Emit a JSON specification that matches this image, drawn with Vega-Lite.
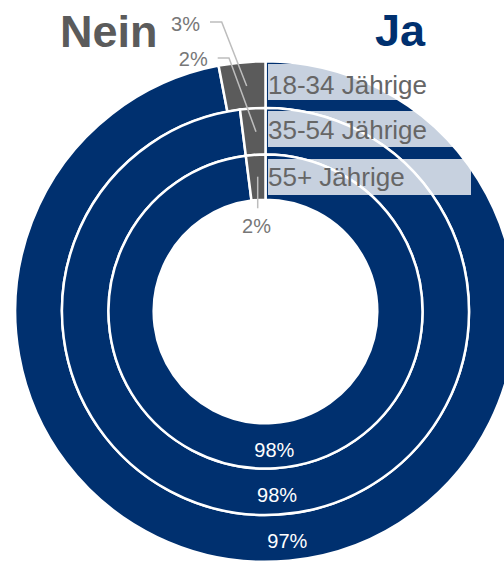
{
  "$schema": "https://vega.github.io/schema/vega-lite/v6.json",
  "width": 470,
  "height": 500,
  "autosize": {"type": "none"},
  "padding": {"left": 30.5, "top": 61.5, "right": 3.5, "bottom": 0.5},
  "background": "white",
  "config": {"view": {"stroke": null}, "text": {"font": "Liberation Sans"}},
  "datasets": {
    "rings": [
      {"group": "18-34 Jährige", "answer": "Ja", "value": 0.97},
      {"group": "18-34 Jährige", "answer": "Nein", "value": 0.03},
      {"group": "35-54 Jährige", "answer": "Ja", "value": 0.98},
      {"group": "35-54 Jährige", "answer": "Nein", "value": 0.02},
      {"group": "55+ Jährige", "answer": "Ja", "value": 0.98},
      {"group": "55+ Jährige", "answer": "Nein", "value": 0.02}
    ],
    "boxes": [
      {"group": "18-34 Jährige", "x1": 1.0, "x2": 82.53, "y1": 99.4, "y2": 84.94},
      {"group": "35-54 Jährige", "x1": 1.0, "x2": 82.53, "y1": 80.52, "y2": 66.06},
      {"group": "55+ Jährige", "x1": 1.0, "x2": 82.53, "y1": 61.24, "y2": 46.79}
    ],
    "groupLabels": [
      {"group": "18-34 Jährige", "x": 1.0, "y": 87.15},
      {"group": "35-54 Jährige", "x": 1.0, "y": 69.08},
      {"group": "55+ Jährige", "x": 1.0, "y": 50.4}
    ],
    "titles": [
      {"answer": "Nein", "x": -82.53, "y": 106.3},
      {"answer": "Ja", "x": 43.98, "y": 106.5}
    ],
    "sideLabels": [
      {"group": "18-34 Jährige", "label": "3%", "x": -26.31, "y": 112.53},
      {"group": "35-54 Jährige", "label": "2%", "x": -23.21, "y": 98.71}
    ],
    "bottomLabels": [
      {"group": "55+ Jährige", "label": "2%", "x": -3.61, "y": 31.41}
    ],
    "leaders": [
      {"group": "18-34 Jährige", "i": 1, "x": -22.29, "y": 116.27},
      {"group": "18-34 Jährige", "i": 2, "x": -17.59, "y": 116.27},
      {"group": "18-34 Jährige", "i": 3, "x": -7.55, "y": 90.56},
      {"group": "35-54 Jährige", "i": 1, "x": -19.2, "y": 101.81},
      {"group": "35-54 Jährige", "i": 2, "x": -14.66, "y": 101.81},
      {"group": "35-54 Jährige", "i": 3, "x": -3.82, "y": 72.21},
      {"group": "55+ Jährige", "i": 1, "x": -3.13, "y": 54.14},
      {"group": "55+ Jährige", "i": 2, "x": -3.13, "y": 41.45}
    ]
  },
  "layer": [
    {
      "data": {"name": "rings"},
      "transform": [{"filter": "datum.group === '18-34 Jährige'"}],
      "mark": {"type": "arc", "radius": 250.3, "radius2": 203.5, "stroke": "white", "strokeWidth": 2.5},
      "encoding": {
        "theta": {"field": "value", "type": "quantitative", "stack": true, "scale": {"domain": [0, 1]}},
        "order": {"field": "answer", "sort": "ascending"},
        "color": {"field": "answer", "type": "nominal", "scale": {"domain": ["Ja", "Nein"], "range": ["#00306f", "#5b5b5b"]}, "legend": null}
      }
    },
    {
      "data": {"name": "rings"},
      "transform": [{"filter": "datum.group === '35-54 Jährige'"}],
      "mark": {"type": "arc", "radius": 203.5, "radius2": 157, "stroke": "white", "strokeWidth": 2.5},
      "encoding": {
        "theta": {"field": "value", "type": "quantitative", "stack": true, "scale": {"domain": [0, 1]}},
        "order": {"field": "answer", "sort": "ascending"},
        "color": {"field": "answer", "type": "nominal", "scale": {"domain": ["Ja", "Nein"], "range": ["#00306f", "#5b5b5b"]}, "legend": null}
      }
    },
    {
      "data": {"name": "rings"},
      "transform": [{"filter": "datum.group === '55+ Jährige'"}],
      "mark": {"type": "arc", "radius": 157, "radius2": 111.8, "stroke": "white", "strokeWidth": 2.5},
      "encoding": {
        "theta": {"field": "value", "type": "quantitative", "stack": true, "scale": {"domain": [0, 1]}},
        "order": {"field": "answer", "sort": "ascending"},
        "color": {"field": "answer", "type": "nominal", "scale": {"domain": ["Ja", "Nein"], "range": ["#00306f", "#5b5b5b"]}, "legend": null}
      }
    },
    {
      "data": {"name": "rings"},
      "transform": [{"filter": "datum.group === '18-34 Jährige' && datum.answer === 'Ja'"}],
      "mark": {"type": "text", "radius": 232, "fill": "white", "fontSize": 20, "align": "center", "baseline": "middle"},
      "encoding": {
        "theta": {"field": "value", "type": "quantitative", "stack": true, "scale": {"domain": [0, 1]}},
        "text": {"field": "value", "type": "quantitative", "format": ".0%"}
      }
    },
    {
      "data": {"name": "rings"},
      "transform": [{"filter": "datum.group === '35-54 Jährige' && datum.answer === 'Ja'"}],
      "mark": {"type": "text", "radius": 185, "fill": "white", "fontSize": 20, "align": "center", "baseline": "middle"},
      "encoding": {
        "theta": {"field": "value", "type": "quantitative", "stack": true, "scale": {"domain": [0, 1]}},
        "text": {"field": "value", "type": "quantitative", "format": ".0%"}
      }
    },
    {
      "data": {"name": "rings"},
      "transform": [{"filter": "datum.group === '55+ Jährige' && datum.answer === 'Ja'"}],
      "mark": {"type": "text", "radius": 140, "fill": "white", "fontSize": 20, "align": "center", "baseline": "middle"},
      "encoding": {
        "theta": {"field": "value", "type": "quantitative", "stack": true, "scale": {"domain": [0, 1]}},
        "text": {"field": "value", "type": "quantitative", "format": ".0%"}
      }
    },
    {
      "data": {"name": "boxes"},
      "mark": {"type": "rect", "fill": "white", "opacity": 0.78},
      "encoding": {
        "x": {"field": "x1", "type": "quantitative", "scale": {"domain": [-94.3775, 94.3775], "nice": false, "zero": false}, "axis": null},
        "x2": {"field": "x2"},
        "y": {"field": "y1", "type": "quantitative", "scale": {"domain": [-100.4016, 100.4016], "nice": false, "zero": false}, "axis": null},
        "y2": {"field": "y2"}
      }
    },
    {
      "data": {"name": "leaders"},
      "mark": {"type": "line", "stroke": "#bdbdbd", "strokeWidth": 1.5},
      "encoding": {
        "x": {"field": "x", "type": "quantitative", "scale": {"domain": [-94.3775, 94.3775], "nice": false, "zero": false}, "axis": null},
        "y": {"field": "y", "type": "quantitative", "scale": {"domain": [-100.4016, 100.4016], "nice": false, "zero": false}, "axis": null},
        "detail": {"field": "group"},
        "order": {"field": "i"}
      }
    },
    {
      "data": {"name": "groupLabels"},
      "mark": {"type": "text", "fontSize": 26, "fill": "#666666", "align": "left", "baseline": "alphabetic"},
      "encoding": {
        "x": {"field": "x", "type": "quantitative", "scale": {"domain": [-94.3775, 94.3775], "nice": false, "zero": false}, "axis": null},
        "y": {"field": "y", "type": "quantitative", "scale": {"domain": [-100.4016, 100.4016], "nice": false, "zero": false}, "axis": null},
        "text": {"field": "group"}
      }
    },
    {
      "data": {"name": "titles"},
      "mark": {"type": "text", "fontSize": 45, "fontWeight": "bold", "align": "left", "baseline": "alphabetic"},
      "encoding": {
        "x": {"field": "x", "type": "quantitative", "scale": {"domain": [-94.3775, 94.3775], "nice": false, "zero": false}, "axis": null},
        "y": {"field": "y", "type": "quantitative", "scale": {"domain": [-100.4016, 100.4016], "nice": false, "zero": false}, "axis": null},
        "text": {"field": "answer"},
        "color": {"field": "answer", "type": "nominal", "scale": {"domain": ["Ja", "Nein"], "range": ["#00306f", "#5b5b5b"]}, "legend": null}
      }
    },
    {
      "data": {"name": "sideLabels"},
      "mark": {"type": "text", "fontSize": 20, "fill": "#777777", "align": "right", "baseline": "alphabetic"},
      "encoding": {
        "x": {"field": "x", "type": "quantitative", "scale": {"domain": [-94.3775, 94.3775], "nice": false, "zero": false}, "axis": null},
        "y": {"field": "y", "type": "quantitative", "scale": {"domain": [-100.4016, 100.4016], "nice": false, "zero": false}, "axis": null},
        "text": {"field": "label"}
      }
    },
    {
      "data": {"name": "bottomLabels"},
      "mark": {"type": "text", "fontSize": 20, "fill": "#777777", "align": "center", "baseline": "alphabetic"},
      "encoding": {
        "x": {"field": "x", "type": "quantitative", "scale": {"domain": [-94.3775, 94.3775], "nice": false, "zero": false}, "axis": null},
        "y": {"field": "y", "type": "quantitative", "scale": {"domain": [-100.4016, 100.4016], "nice": false, "zero": false}, "axis": null},
        "text": {"field": "label"}
      }
    }
  ]
}
